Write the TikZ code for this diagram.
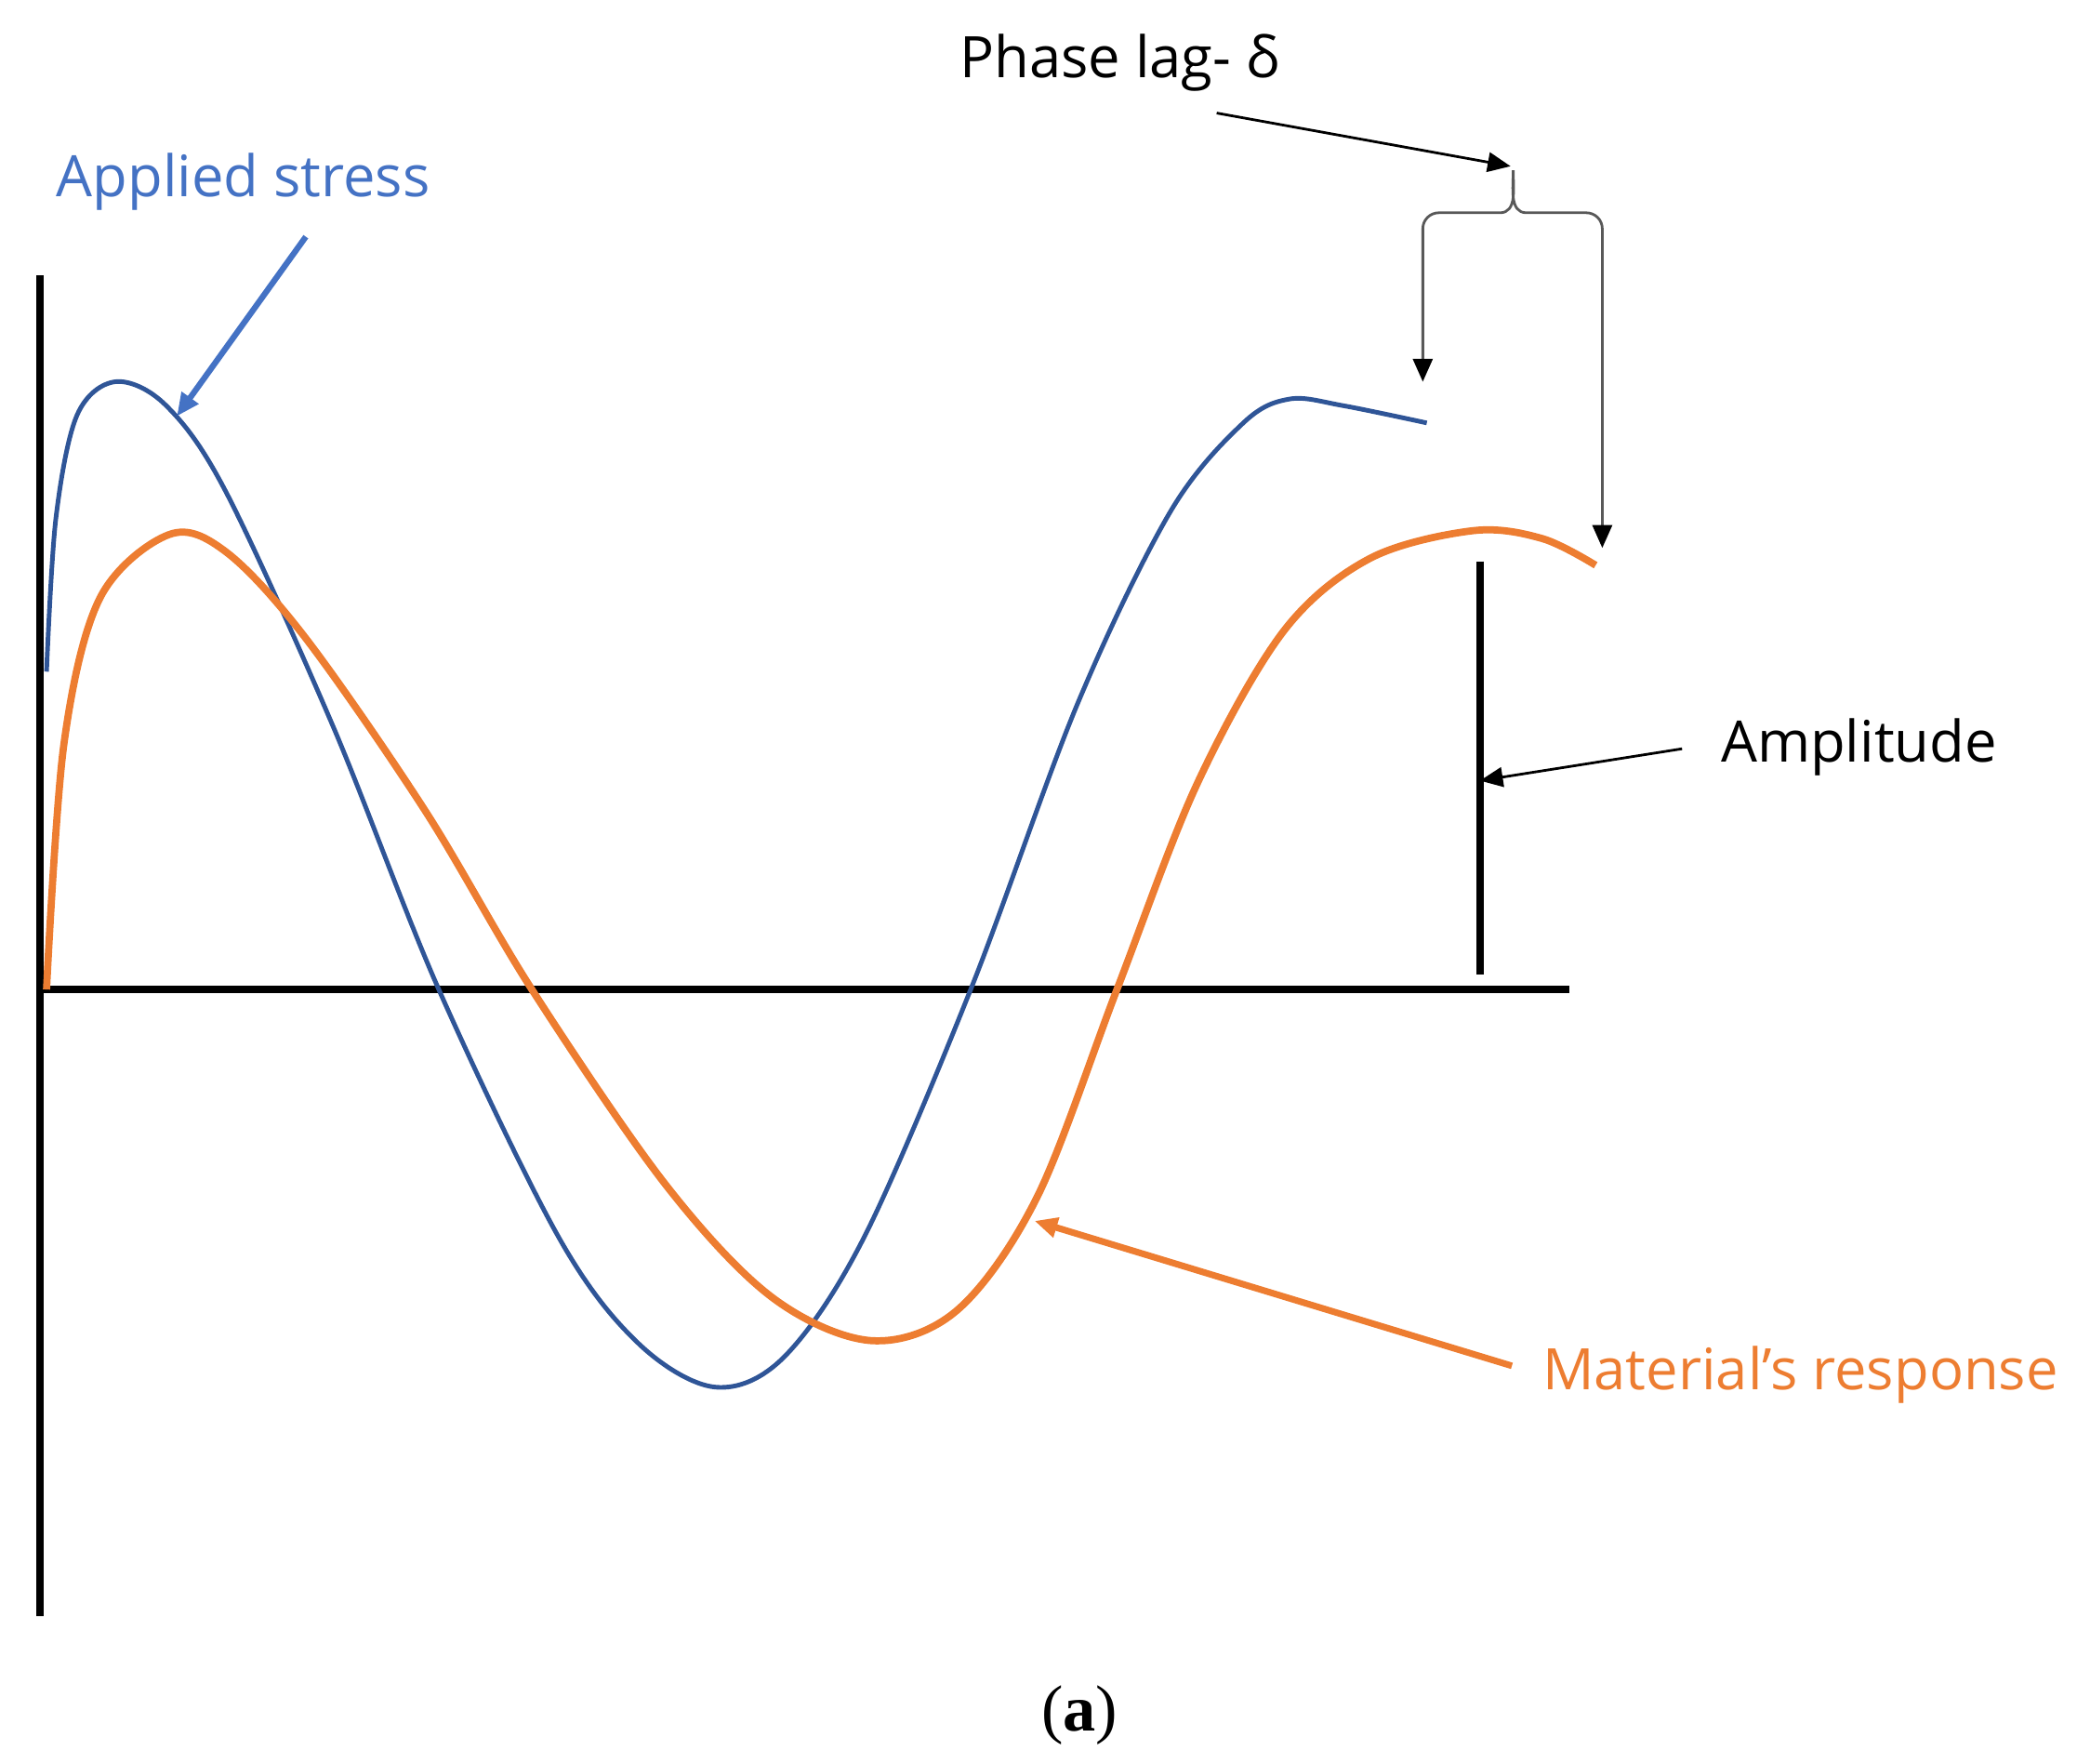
\documentclass[tikz,border=0pt]{standalone}
\usepackage{fontspec}
\setmainfont{Open Sans}
\newfontfamily\serifb{Liberation Serif}
\usetikzlibrary{arrows.meta}
\definecolor{sblue}{RGB}{47,85,151}
\definecolor{lblue}{RGB}{68,114,196}
\definecolor{sorange}{RGB}{237,125,49}
\begin{document}
\begin{tikzpicture}[x=0.0143cm,y=-0.0143cm,
  ax/.style={line width=2.2pt,black},
  lab/.style={font=\fontsize{17.5}{21}\selectfont,inner sep=0},
  arr/.style={-{Triangle[length=7pt,width=6pt]},line width=0.8pt}]
\useasboundingbox (0,0) rectangle (1562,1326);
\draw[ax] (30,207) -- (30,1215);
\draw[ax] (30,744) -- (1180,744);
\draw[sblue,line width=1.4pt] plot[smooth,tension=0.55] coordinates {(35,505)(42,390)(58,312)(87,287)(125,305)(170,370)(250,545)(330,744)(420,930)(480,1010)(538,1043)(590,1020)(650,930)(730,744)(810,530)(880,385)(935,318)(970,300)(1010,305)(1073,318)};
\draw[sorange,line width=2.2pt] plot[smooth,tension=0.55] coordinates {(35,744)(48,560)(75,450)(127,402)(170,415)(230,480)(320,610)(400,744)(500,890)(580,975)(655,1008)(720,985)(780,900)(840,744)(900,590)(965,475)(1030,420)(1108,399)(1160,405)(1200,425)};
\draw[line width=2.2pt] (1113,422) -- (1113,733);
\node[lab] (amp) at (1398,562) {Amplitude};
\coordinate (ampS) at (1265,563);
\coordinate (ampE) at (1113,587);
\draw[arr] (ampS) -- (ampE);
\node[lab,text=lblue] (as) at (183,137) {Applied stress};
\coordinate (asS) at (230,178);
\coordinate (asE) at (133,313);
\draw[arr,lblue,line width=1.8pt] (asS) -- (asE);
\node[lab,text=sorange] (mr) at (1354,1034) {Material’s response};
\coordinate (mrS) at (1137,1027);
\coordinate (mrE) at (778,918);
\draw[arr,sorange,line width=2pt] (mrS) -- (mrE);
\node[lab] (pl) at (842,47) {Phase lag- δ};
\coordinate (plS) at (915,85);
\coordinate (plE) at (1136,125);
\draw[arr] (plS) -- (plE);
\draw[gray!70!black,line width=0.8pt] (1070,275) -- (1070,172) to[out=90,in=180] (1082,160) -- (1128,160) to[out=0,in=-90] (1138,128) to[out=-90,in=180] (1148,160) -- (1193,160) to[out=0,in=90] (1205,172) -- (1205,395);
\coordinate (b1) at (1070,270);
\coordinate (b1e) at (1070,287);
\coordinate (b2) at (1205,395);
\coordinate (b2e) at (1205,412);
\draw[arr] (b1) -- (b1e);
\draw[arr] (b2) -- (b2e);
\node[inner sep=0] (a) at (812,1290) {\serifb\fontsize{20}{24}\selectfont(\textbf{a})};
\end{tikzpicture}
\end{document}
